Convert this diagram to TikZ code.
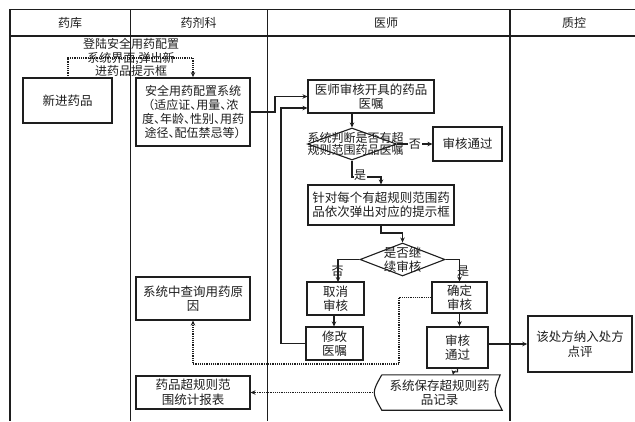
\documentclass[tikz,border=0pt]{standalone}
\usepackage{fontspec}
\setmainfont{Noto Sans CJK SC}
\usetikzlibrary{arrows.meta,shapes.geometric,calc}
\definecolor{ink}{RGB}{30,30,30}
\newcommand{\hdun}{\makebox[0.5em][l]{、}}
\newcommand{\hlp}{\makebox[0.55em][r]{（}}
\newcommand{\hrp}{\makebox[0.55em][l]{）}}
\begin{document}
\begin{tikzpicture}[x=1pt,y=-1pt,
  every node/.style={text=ink},
  lane/.style={draw=ink,line width=1pt},
  lanethick/.style={draw=ink,line width=1.6pt},
  hdr/.style={font=\fontsize{12}{14}\selectfont},
  box/.style={draw=ink,line width=1.1pt,fill=white,align=center,inner sep=1pt,
    font=\fontsize{12.5}{14.5}\selectfont},
  boxthick/.style={box,line width=1.8pt},
  dia/.style={diamond,draw=ink,line width=1.1pt,inner sep=0pt,fill=white},
  dtext/.style={align=center,inner sep=0pt,font=\fontsize{12}{12.5}\selectfont},
  lbl/.style={inner sep=0.5pt,font=\fontsize{12}{13.5}\selectfont,align=center},
  conn/.style={draw=ink,line width=1.1pt,-{Stealth[length=5pt,width=4.5pt]}},
  dconn/.style={draw=ink,line width=1.3pt,dash pattern=on 1.2pt off 1pt,-{Stealth[length=5pt,width=4.5pt]}}
]
\useasboundingbox (0,0) rectangle (635,421);
% swimlanes
\draw[lane] (10,9) -- (635,9);
\draw[draw=ink,line width=1.8pt] (10,36) -- (635,36);
\draw[lanethick] (10,9) -- (10,421);
\draw[lane] (130,9) -- (130,421);
\draw[lane] (267,9) -- (267,421);
\draw[lanethick] (510,9) -- (510,421);
\node[hdr] (h1) at (70,22.5) {药库};
\node[hdr] (h2) at (198.5,22.5) {药剂科};
\node[hdr] (h3) at (386,22.5) {医师};
\node[hdr] (h4) at (574,22.5) {质控};
% nodes
\node[box,minimum width=89,minimum height=45] (newd) at (67.5,100.5) {新进药品};
\node[boxthick,minimum width=114,minimum height=68,font=\fontsize{12}{14}\selectfont] (sys) at (193,112)
  {安全用药配置系统\\\hlp 适应证\hdun 用量\hdun 浓\\度\hdun 年龄\hdun 性别\hdun 用药\\途径\hdun 配伍禁忌等\hrp};
\node[box,minimum width=126,minimum height=33] (doc) at (371,96.5) {医师审核开具的药品\\医嘱};
\node[dia,minimum width=89,minimum height=32] (d1) at (352,144) {};
\node[dtext] (d1t) at (355.5,144) {系统判断是否有超\\规则范围药品医嘱};
\node[box,minimum width=69,minimum height=34] (pass1) at (467.5,144) {审核通过};
\node[box,minimum width=146,minimum height=40] (each) at (381,205) {针对每个有超规则范围药\\品依次弹出对应的提示框};
\node[dia,minimum width=85,minimum height=33] (d2) at (402.5,259.5) {};
\node[dtext,font=\fontsize{12.5}{14}\selectfont] (d2t) at (402.5,259.5) {是否继\\续审核};
\node[box,minimum width=57,minimum height=33] (cancel) at (335.5,298.5) {取消\\审核};
\node[box,minimum width=57,minimum height=33] (modify) at (334.5,343.5) {修改\\医嘱};
\node[box,minimum width=55,minimum height=31] (confirm) at (459.5,297.5) {确定\\审核};
\node[boxthick,minimum width=61,minimum height=41] (pass2) at (457.5,347.5) {审核\\通过};
\node[box,line width=1.5pt,minimum width=104,minimum height=56] (review) at (580,344) {该处方纳入处方\\点评};
\node[align=center,inner sep=0pt,minimum width=125,minimum height=35,font=\fontsize{12.5}{14.5}\selectfont] (store) at (439.5,392.5) {系统保存超规则药\\品记录};
\draw[draw=ink,line width=1.1pt]
  ($(store.north west)+(5,0)$) -- ($(store.north east)+(-2,0)$)
  .. controls ($(store.east)+(-9,0)$) .. ($(store.south east)+(0,0)$)
  -- ($(store.south west)+(5,0)$)
  .. controls ($(store.west)+(-5,0)$) .. ($(store.north west)+(5,0)$);
\node[box,minimum width=114,minimum height=43] (query) at (193,298.5) {系统中查询用药原\\因};
\node[box,minimum width=114,minimum height=33] (report) at (193,392.5) {药品超规则范\\围统计报表};
% connectors
\coordinate (nd0) at (68,78);
\draw[dconn] (nd0) -- (68,58) -| (sys.north);
\node[lbl] (loginlbl) at (131,57.5) {登陆安全用药配置\\系统界面,弹出新\\进药品提示框};
\draw[conn] (sys.east) -- (275,112) |- (doc.west);
\draw[conn] (modify.west) -- (281,343.5) |- (doc.west |- 0,108);
\draw[conn] (d1.north |- doc.south) -- (d1.north);
\draw[conn] (d1.east) -- node[fill=white,inner sep=1pt,font=\fontsize{12}{12}\selectfont] (no1) {否} (pass1.west);
\draw[conn] (d1.south) |- (each.north |- 0,177) -- (each.north);
\node[fill=white,inner sep=0.5pt,font=\fontsize{12}{12}\selectfont] (yes1) at (360,175.5) {是};
\draw[conn] (each.south) -- (381,233) -| (d2.north);
\draw[conn] (d2.west) -| (338,282);
\draw[conn] (d2.east) -| (confirm.north);
\node[font=\fontsize{12}{12}\selectfont,inner sep=0pt] (no2) at (337.5,271) {否};
\node[font=\fontsize{12}{12}\selectfont,inner sep=0pt] (yes2) at (463,271) {是};
\draw[conn] (cancel.south -| 334,0) -- (modify.north -| 334,0);
\draw[conn] (confirm.south) -- (pass2.north -| confirm.south);
\draw[conn] (pass2.east |- review.west) -- (review.west);
\draw[conn] (pass2.south) -- ++(0,3) -- ++(-4,0) -- (453,375);
\draw[dconn] (confirm.west) -- (399,297.5) |- (193,364) -- (query.south);
\draw[dconn] ($(store.west)+(-4,0)$) -- (report.east);
\end{tikzpicture}
\end{document}
